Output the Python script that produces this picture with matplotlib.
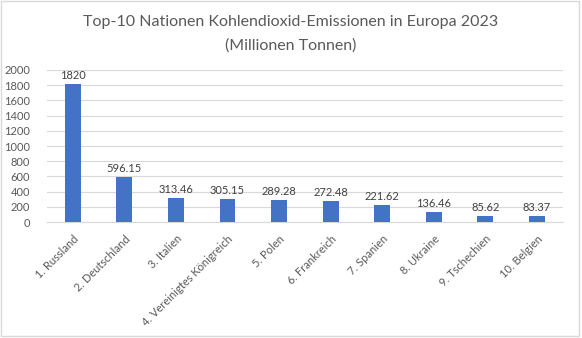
import matplotlib
matplotlib.use("Agg")
import matplotlib.pyplot as plt
from matplotlib.patches import Rectangle

categories = ["1. Russland", "2. Deutschland", "3. Italien", "4. Vereinigtes Königreich",
              "5. Polen", "6. Frankreich", "7. Spanien", "8. Ukraine", "9. Tschechien", "10. Belgien"]
values = [1820, 596.15, 313.46, 305.15, 289.28, 272.48, 221.62, 136.46, 85.62, 83.37]
labels = ["1820", "596.15", "313.46", "305.15", "289.28", "272.48", "221.62", "136.46", "85.62", "83.37"]
yticks = [0, 200, 400, 600, 800, 1000, 1200, 1400, 1600, 1800, 2000]

plt.rcParams['font.family'] = ['Lato', 'DejaVu Sans']
txt = '#595959'

fig = plt.figure(figsize=(5.82, 3.38), dpi=100)
fig.patches.append(Rectangle((0.002, 0.006), 0.992, 0.99, transform=fig.transFigure,
                             fill=False, edgecolor='#D9D9D9', linewidth=1))
ax = fig.add_axes([0.0808, 0.343, 0.886, 0.450])
x = range(len(categories))
ax.bar(x, values, width=0.31, color='#4472C4', zorder=3)
for i, (v, l) in enumerate(zip(values, labels)):
    ax.text(i, v + 40, l, ha='center', va='bottom', fontsize=8, color='#404040')
ax.set_xlim(-0.5, len(categories) - 0.5)
ax.set_ylim(0, 2000)
ax.set_yticks(yticks)
ax.set_yticklabels([str(t) for t in yticks], fontsize=8, color=txt)
ax.set_xticks(list(x))
ax.set_xticklabels(categories, rotation=45, ha='right', rotation_mode='anchor', fontsize=8, color=txt)
ax.grid(axis='y', color='#D9D9D9', linewidth=0.8, zorder=0)
for s in ['top', 'right', 'left']:
    ax.spines[s].set_visible(False)
ax.spines['bottom'].set_color('#D9D9D9')
ax.tick_params(axis='y', length=0, pad=12)
ax.tick_params(axis='x', length=0, pad=8)
fig.text(0.5, 0.935, "Top-10 Nationen Kohlendioxid-Emissionen in Europa 2023", ha='center', va='center',
         fontsize=11.5, color=txt)
fig.text(0.5, 0.865, "(Millionen Tonnen)", ha='center', va='center', fontsize=11.5, color=txt)
fig.savefig("out.png", dpi=100)
